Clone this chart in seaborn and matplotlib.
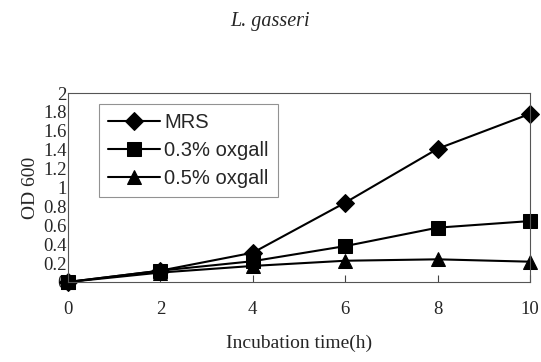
import matplotlib
matplotlib.use("Agg")
import matplotlib.pyplot as plt
import seaborn as sns
import pandas as pd

time_h = [0, 2, 4, 6, 8, 10]
mrs = [0.0, 0.12, 0.31, 0.84, 1.41, 1.78]
oxgall_03 = [0.0, 0.12, 0.22, 0.38, 0.575, 0.645]
oxgall_05 = [0.0, 0.10, 0.17, 0.225, 0.24, 0.215]
series_names = ["MRS", "0.3% oxgall", "0.5% oxgall"]
y_ticks = [0, 0.2, 0.4, 0.6, 0.8, 1, 1.2, 1.4, 1.6, 1.8, 2]
y_tick_labels = ["0", "0.2", "0.4", "0.6", "0.8", "1", "1.2", "1.4", "1.6", "1.8", "2"]

df = pd.DataFrame({
    "time": time_h * 3,
    "od": mrs + oxgall_03 + oxgall_05,
    "series": [series_names[0]] * 6 + [series_names[1]] * 6 + [series_names[2]] * 6,
})

sns.set_theme(style="white")
plt.rcParams["font.family"] = ["Liberation Serif", "DejaVu Serif"]

fig = plt.figure(figsize=(5.41, 3.62), dpi=100)
ax = fig.add_axes([0.1257, 0.221, 0.854, 0.522])

sns.lineplot(data=df, x="time", y="od", hue="series", style="series",
             palette=["black"] * 3, markers=["D", "s", "^"], dashes=False,
             markersize=9.5, linewidth=1.5, markeredgecolor="black",
             ax=ax, legend=True)

ax.set_xlim(0, 10)
ax.set_ylim(0, 2)
ax.set_xticks(time_h)
ax.set_xticklabels([str(t) for t in time_h], fontsize=13.5)
ax.set_yticks(y_ticks)
ax.set_yticklabels(y_tick_labels, fontsize=13.5)
ax.tick_params(axis="x", direction="in", length=5, width=0.8, color="#444444", pad=14, bottom=True)
ax.tick_params(axis="y", length=0, pad=1)
for s in ax.spines.values():
    s.set_color("#555555")
    s.set_linewidth(0.8)
for lbl in ax.get_xticklabels() + ax.get_yticklabels():
    lbl.set_clip_on(False)

ax.set_xlabel("Incubation time(h)", fontsize=14, labelpad=12)
ax.set_ylabel("OD 600", fontsize=14, labelpad=3)

for l in ax.get_lines():
    l.set_clip_on(False)

handles, labels = ax.get_legend_handles_labels()
leg = ax.legend(handles, labels, loc="upper left", bbox_to_anchor=(0.045, 0.995),
                prop={"family": "Liberation Sans", "size": 14.5},
                frameon=True, fancybox=False, edgecolor="#777777",
                handlelength=2.6, handletextpad=0.2, labelspacing=0.45,
                borderpad=0.45, markerscale=1.0)
leg.get_frame().set_linewidth(0.8)

fig.text(0.5, 0.94, "L. gasseri", ha="center", va="center",
         fontsize=14.5, fontstyle="italic", family="Liberation Serif")

fig.savefig("out.png", dpi=100, facecolor="white")
